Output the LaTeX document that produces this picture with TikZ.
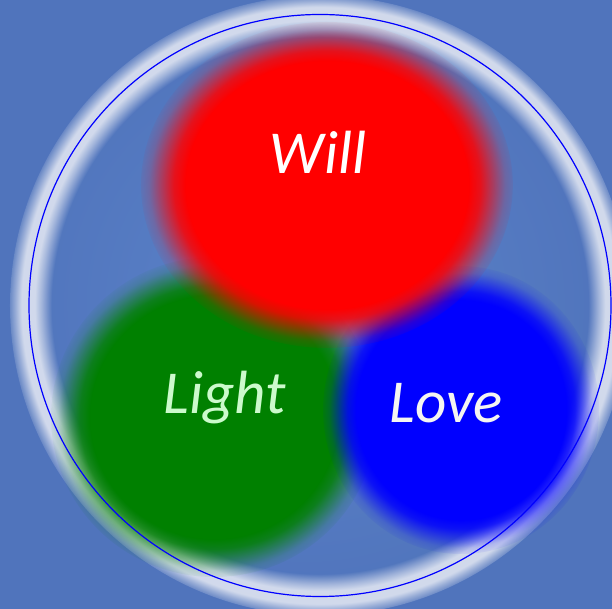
\documentclass[tikz,border=0pt]{standalone}
\usepackage{fontspec}
\setmainfont{Carlito}
\usetikzlibrary{fadings}
\definecolor{bgin}{RGB}{92,132,202}
\definecolor{bgout}{RGB}{80,116,188}
\definecolor{ringwhite}{RGB}{220,226,240}
\definecolor{lightgreen}{RGB}{204,250,204}
\definecolor{offwhite}{RGB}{245,245,242}
\definecolor{willred}{RGB}{255,0,0}
\definecolor{lightgr}{RGB}{0,128,0}
\definecolor{loveblue}{RGB}{0,0,255}
\pgfdeclareradialshading{blobshade}{\pgfpointorigin}{color(0bp)=(white); color(16.7bp)=(white); color(18.1bp)=(white!85!black); color(19.55bp)=(white!50!black); color(21bp)=(white!15!black); color(22.4bp)=(black); color(50bp)=(black)}
\pgfdeclareradialshading{ringshade}{\pgfpointorigin}{color(0bp)=(black); color(19bp)=(black); color(19.75bp)=(white!60!black); color(20.2bp)=(white!92!black); color(21.15bp)=(white!92!black); color(21.6bp)=(white!50!black); color(22.2bp)=(black); color(50bp)=(black)}
\pgfdeclarefading{blobfade}{\tikz\shade[shading=blobshade] (-1,-1) rectangle (1,1);}
\pgfdeclarefading{ringfade}{\tikz\shade[shading=ringshade] (-1,-1) rectangle (1,1);}
\tikzset{word/.style={font=\fontsize{61}{72}\selectfont\itshape, anchor=base, inner sep=0pt}}

\begin{document}
\begin{tikzpicture}[x=1pt,y=1pt]
\useasboundingbox (0,0) rectangle (612,609);
\shade[inner color=bgin, outer color=bgout] (0,0) rectangle (612,609);
\coordinate (O) at (320,303.5); \coordinate (G) at (214,192); \coordinate (B) at (461,199); \coordinate (R) at (327,424);
\fill[ringwhite, path fading=ringfade] (O) circle (310);
\foreach \p/\col/\rx/\ry in {G/lightgr/163/160,B/loveblue/138/144,R/willred/186/163}{\fill[\col, path fading=blobfade] (\p) ellipse [x radius=\rx, y radius=\ry];}
\draw[loveblue, line width=1.2pt] (O) circle (291);
\node[word, text=white] (will) at (318,435) {Will};
\node[word, text=lightgreen] (light) at (225,195) {Light};
\node[word, text=offwhite] (love) at (446,186) {Love};
\end{tikzpicture}
\end{document}
